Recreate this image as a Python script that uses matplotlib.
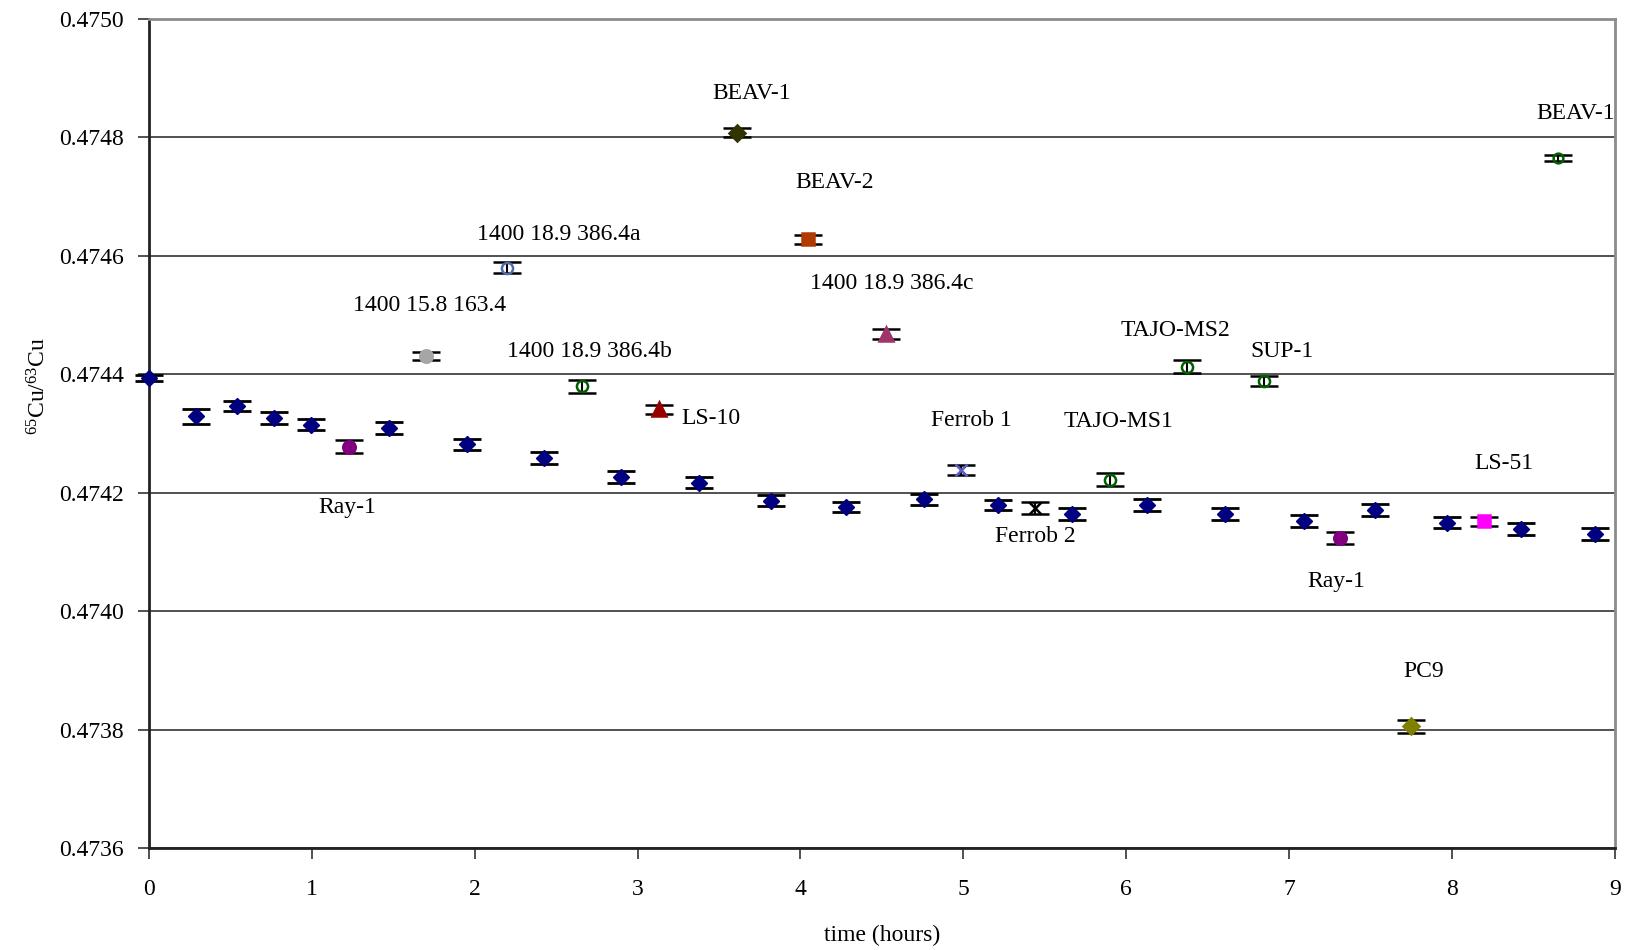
"""
65Cu/63Cu drift over a run: bracketing standard plus samples.
"""

import matplotlib.pyplot as plt

plt.rcParams['font.family'] = ['Liberation Serif', 'DejaVu Serif']
plt.rcParams['mathtext.default'] = 'regular'

# # standard runs (blue diamonds)
std_x = [0.00, 0.29, 0.54, 0.77, 0.995, 1.475, 1.95, 2.425, 2.90, 3.376, 3.82,
         4.28, 4.76, 5.21, 5.666, 6.13, 6.61, 7.09, 7.53, 7.97, 8.424, 8.88]
std_y = [0.474394, 0.474329, 0.474347, 0.474326, 0.474315, 0.474310, 0.474282,
         0.474259, 0.474227, 0.474217, 0.474187, 0.474176, 0.474189, 0.474180,
         0.474164, 0.474180, 0.474164, 0.474153, 0.474171, 0.474150, 0.474139,
         0.474130]
std_err = [0.0000050, 0.0000120, 0.0000090, 0.0000100, 0.0000095, 0.0000100,
           0.0000095, 0.0000100, 0.0000100, 0.0000095, 0.0000090, 0.0000090,
           0.0000100, 0.0000080, 0.0000105, 0.0000100, 0.0000100, 0.0000100,
           0.0000100, 0.0000090, 0.0000100, 0.0000100]

# # samples
smp_names = ['Ray-1', '1400 15.8 163.4', '1400 18.9 386.4a', '1400 18.9 386.4b',
             'LS-10', 'BEAV-1', 'BEAV-2', '1400 18.9 386.4c', 'Ferrob 1',
             'Ferrob 2', 'TAJO-MS1', 'TAJO-MS2', 'SUP-1', 'Ray-1', 'PC9',
             'LS-51', 'BEAV-1']
smp_x = [1.225, 1.70, 2.195, 2.66, 3.13, 3.61, 4.046, 4.525, 4.985, 5.44,
         5.90, 6.375, 6.848, 7.313, 7.747, 8.20, 8.654]
smp_y = [0.474278, 0.474431, 0.474580, 0.474380, 0.474341, 0.474808, 0.474628,
         0.474468, 0.474239, 0.474174, 0.474222, 0.474413, 0.474389, 0.474124,
         0.473806, 0.474152, 0.474766]
smp_err = [0.0000110, 0.0000070, 0.0000090, 0.0000110, 0.0000080, 0.0000075,
           0.0000075, 0.0000085, 0.0000085, 0.0000100, 0.0000110, 0.0000110,
           0.0000090, 0.0000100, 0.0000110, 0.0000075, 0.0000050]

# label anchor points (x, y in data units)
lbl_x = [1.22, 1.72, 2.515, 2.706, 3.27, 3.70, 4.21, 4.563, 5.05, 5.44,
         5.95, 6.30, 6.956, 7.29, 7.83, 8.32, 9.0]
lbl_y = [0.474176, 0.474517, 0.474636, 0.474438, 0.474326, 0.474874, 0.474724,
         0.474554, 0.474322, 0.474127, 0.474320, 0.474475, 0.474438, 0.474050,
         0.473899, 0.474250, 0.474840]
lbl_ha = ['center'] * 17
lbl_ha[4] = 'left'
lbl_ha[16] = 'right'

# marker styles for each sample: (marker, face, edge, size)
smp_style = [
    ('o', '#800080', '#800080', 9),
    ('o', '#A6A6A6', '#A6A6A6', 9),
    ('o', 'none', '#4F6EA8', 8),
    ('o', 'none', '#006000', 8),
    ('^', '#990000', '#990000', 10),
    ('D', '#333300', '#333300', 8),
    ('s', '#B03A00', '#B03A00', 9),
    ('^', '#A03468', '#A03468', 10),
    ('x', '#5C5CC8', '#5C5CC8', 9),
    ('x', 'black', 'black', 9),
    ('o', 'none', '#006000', 8),
    ('o', 'none', '#006000', 8),
    ('o', 'none', '#006000', 8),
    ('o', '#800080', '#800080', 9),
    ('D', '#808000', '#808000', 8),
    ('s', '#FF00FF', '#FF00FF', 9),
    ('o', 'none', '#006000', 7),
]

fig, ax = plt.subplots(figsize=(16.31, 9.5), dpi=100)
fig.subplots_adjust(left=0.0914, right=0.990, top=0.980, bottom=0.107)

ax.errorbar(std_x, std_y, yerr=std_err, fmt='D', color='#000080', ms=8.5,
            ecolor='black', elinewidth=1.5, capsize=10, capthick=2, zorder=3,
            clip_on=False)

for i in range(len(smp_x)):
    mk, fc, ec, ms = smp_style[i]
    ax.errorbar(smp_x[i], smp_y[i], yerr=smp_err[i], fmt=mk, mfc=fc, mec=ec,
                mew=1.8, ms=ms, ecolor='black', elinewidth=1.5, capsize=10,
                capthick=2, zorder=3)
    ax.text(lbl_x[i], lbl_y[i], smp_names[i], fontsize=17, ha=lbl_ha[i],
            va='center', clip_on=True)

ax.set_xlim(0, 9)
ax.set_ylim(0.4736, 0.4750)
ax.set_xticks(range(0, 10))
ax.set_yticks([0.4736 + 0.0002 * k for k in range(8)])
ax.yaxis.set_major_formatter(plt.FuncFormatter(lambda v, p: f'{v:.4f}'))
ax.yaxis.grid(True, color='#333333', linewidth=1.2)
ax.set_axisbelow(True)

ax.tick_params(axis='both', direction='out', length=8, width=1.2,
               labelsize=17, color='#333333')
ax.tick_params(axis='y', pad=10)
ax.tick_params(axis='x', pad=14)

ax.spines['left'].set_color('#222222')
ax.spines['left'].set_linewidth(2)
ax.spines['bottom'].set_color('#222222')
ax.spines['bottom'].set_linewidth(2)
ax.spines['top'].set_color('#8C8C8C')
ax.spines['top'].set_linewidth(2)
ax.spines['right'].set_color('#8C8C8C')
ax.spines['right'].set_linewidth(2)

ax.set_xlabel('time (hours)', fontsize=17)
ax.xaxis.set_label_coords(0.5, -0.092)
ax.set_ylabel('$^{65}$Cu/$^{63}$Cu', fontsize=17)
ax.yaxis.set_label_coords(-0.067, 0.558)

plt.savefig('out.png', dpi=100)
